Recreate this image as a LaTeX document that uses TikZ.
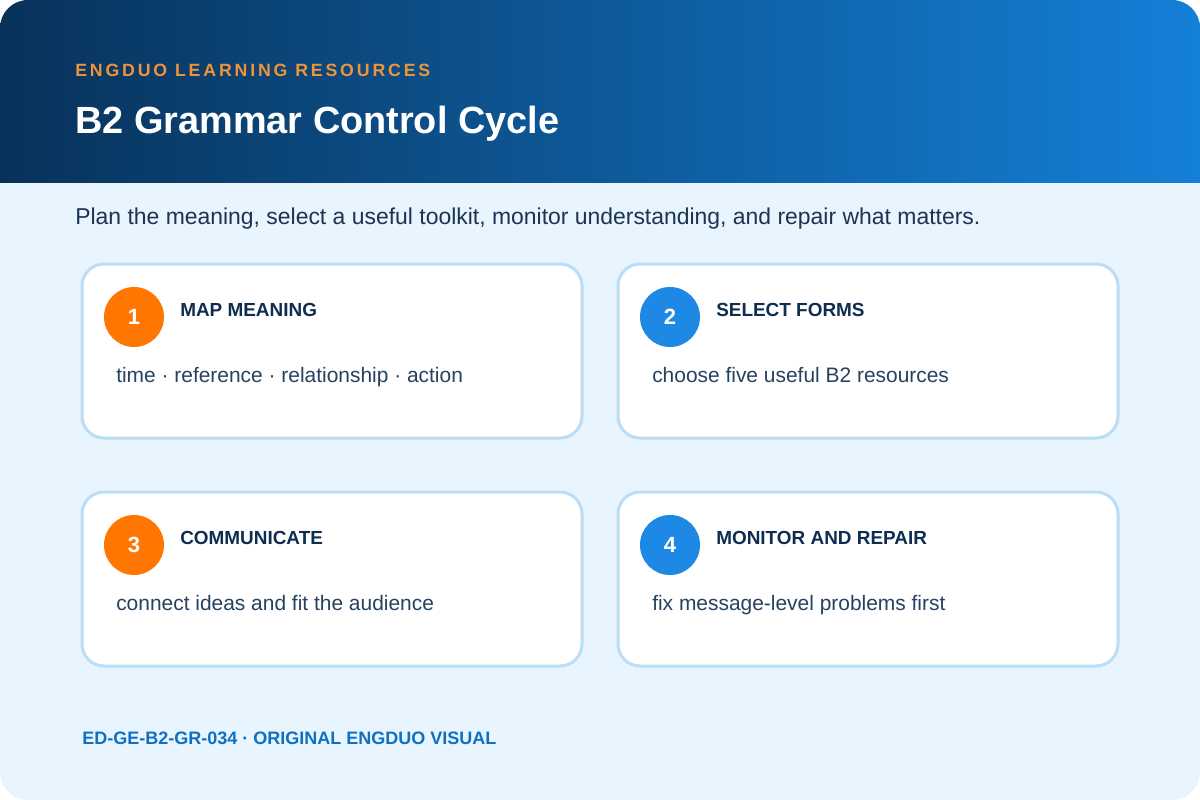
\documentclass[tikz,border=0pt]{standalone}
\usepackage{fontspec}
\setmainfont{Liberation Sans}
\definecolor{bodybg}{RGB}{232,244,254}
\definecolor{hdleft}{RGB}{8,50,90}
\definecolor{hdright}{RGB}{20,128,216}
\definecolor{kicker}{RGB}{240,147,58}
\definecolor{cardedge}{RGB}{187,221,245}
\definecolor{navy}{RGB}{14,45,80}
\definecolor{subtxt}{RGB}{28,52,82}
\definecolor{bodytxt}{RGB}{38,66,96}
\definecolor{orng}{RGB}{255,118,0}
\definecolor{blu}{RGB}{30,136,229}
\definecolor{foot}{RGB}{16,112,192}
\tikzset{
  x=0.75pt, y=-0.75pt,
  card/.style={draw=cardedge, line width=2.25pt, fill=white, rounded corners=16.5pt},
  badge/.style={circle, minimum size=45pt, inner sep=0pt, text=white, font=\bfseries\fontsize{16.5}{20}\selectfont},
  cardtitle/.style={anchor=base west, inner sep=0pt, text=navy, font=\bfseries\fontsize{14.2}{17}\selectfont},
  cardtext/.style={anchor=base west, inner sep=0pt, text=bodytxt, font=\fontsize{15.7}{19}\selectfont},
}
\begin{document}
\begin{tikzpicture}
\useasboundingbox (0,0) rectangle (1200,800);
\begin{scope}
  \clip[rounded corners=21pt] (0,0) rectangle (1200,800);
  \fill[bodybg] (0,0) rectangle (1200,800);
  \shade[left color=hdleft, right color=hdright] (0,0) rectangle (1200,182);
\end{scope}
\node[anchor=base west, inner sep=0pt, text=kicker, font=\bfseries\fontsize{13.3}{16}\selectfont\addfontfeature{LetterSpace=16}] (kick) at (75,76) {ENGDUO LEARNING RESOURCES};
\node[anchor=base west, inner sep=0pt, text=white, font=\bfseries\fontsize{28.4}{34}\selectfont] (title) at (75,133) {B2 Grammar Control Cycle};
\node[anchor=base west, inner sep=0pt, text=subtxt, font=\fontsize{17.2}{20}\selectfont] (sub) at (75,224) {Plan the meaning, select a useful toolkit, monitor understanding, and repair what matters.};

\draw[card] (82,264) rectangle (582,438);
\draw[card] (618,264) rectangle (1118,438);
\draw[card] (82,492) rectangle (582,666);
\draw[card] (618,492) rectangle (1118,666);

\node[badge, fill=orng] (b1) at (134,317) {1};
\node[badge, fill=blu] (b2) at (670,317) {2};
\node[badge, fill=orng] (b3) at (134,545) {3};
\node[badge, fill=blu] (b4) at (670,545) {4};

\node[cardtitle] (t1) at (180,316) {MAP MEANING};
\node[cardtitle] (t2) at (716,316) {SELECT FORMS};
\node[cardtitle] (t3) at (180,544) {COMMUNICATE};
\node[cardtitle] (t4) at (716,544) {MONITOR AND REPAIR};

\node[cardtext] (d1) at (116,382) {time · reference · relationship · action};
\node[cardtext] (d2) at (652,382) {choose five useful B2 resources};
\node[cardtext] (d3) at (116,610) {connect ideas and fit the audience};
\node[cardtext] (d4) at (652,610) {fix message-level problems first};

\node[anchor=base west, inner sep=0pt, text=foot, font=\bfseries\fontsize{13.5}{16}\selectfont] (ft) at (82,744) {ED-GE-B2-GR-034 · ORIGINAL ENGDUO VISUAL};
\end{tikzpicture}
\end{document}
